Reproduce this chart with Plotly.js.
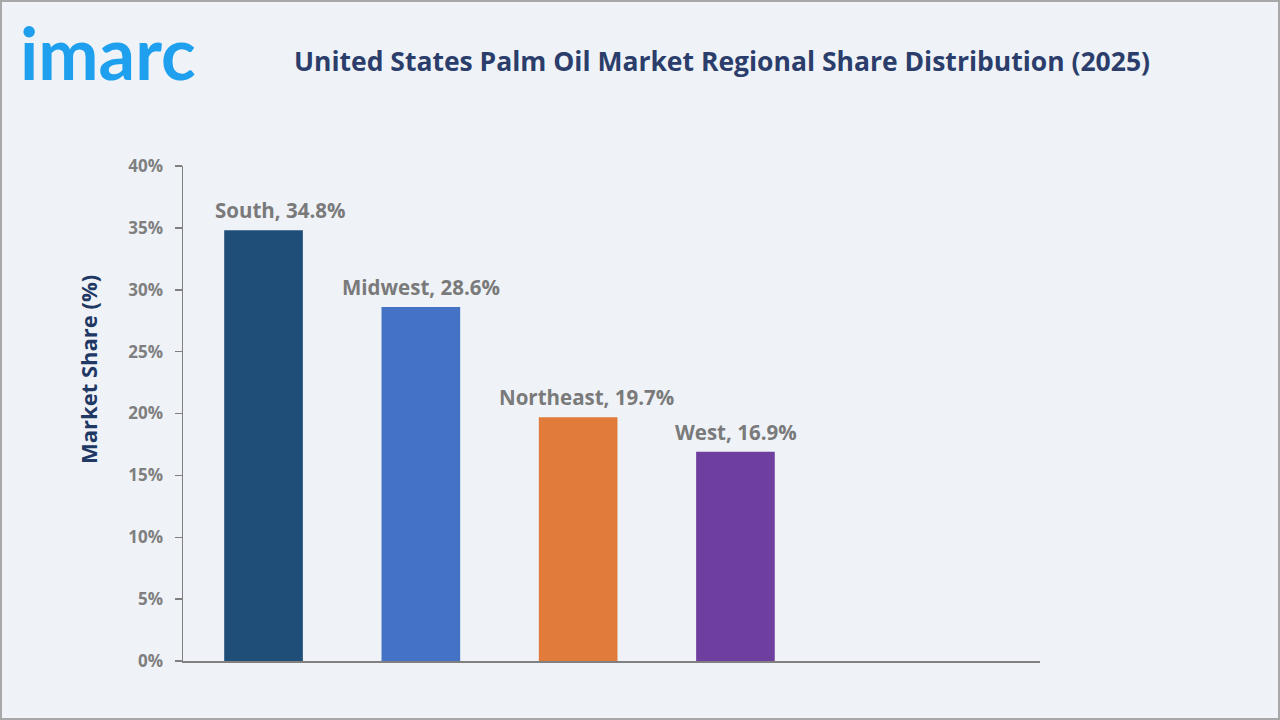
<!DOCTYPE html>
<html>
<head>
<meta charset="utf-8">
<script src="https://cdn.plot.ly/plotly-3.0.1.min.js"></script>
<style>
html,body{margin:0;padding:0;background:#eff3f8;}
#wrap{position:relative;width:1280px;height:720px;}
#chart{width:1280px;height:720px;}
#frame{position:absolute;left:0;top:0;width:1280px;height:720px;box-sizing:border-box;border:2px solid #a8a8a8;pointer-events:none;}
</style>
</head>
<body>
<div id="wrap"><div id="chart"></div><div id="frame"></div></div>
<script>
const regions = ["South", "Midwest", "Northeast", "West"];
const shares = [34.8, 28.6, 19.7, 16.9];
const barColors = ["#1f4e79", "#4472c4", "#e07b39", "#6f3f9f"];
const yTickVals = [0, 5, 10, 15, 20, 25, 30, 35, 40];
const yTickText = ["0%", "5%", "10%", "15%", "20%", "25%", "30%", "35%", "40%"];

const labelFont = {family: "Open Sans, Noto Sans, sans-serif", size: 20.5, color: "#7a7a7a", weight: 700};
const labelNudge = [16, 0, 8, 1];

const annotations = regions.map((r, i) => ({
  x: r, y: shares[i], xref: "x", yref: "y",
  text: r + ", " + shares[i].toFixed(1) + "%",
  showarrow: false, yanchor: "bottom", yshift: 4, xshift: labelNudge[i],
  font: labelFont
}));

annotations.push({
  xref: "paper", yref: "paper",
  x: (88 - 183) / 857, y: (661 - 370) / 495,
  text: "Market Share (%)", textangle: -90, showarrow: false,
  xanchor: "center", yanchor: "middle",
  font: {family: "Open Sans, Noto Sans, sans-serif", size: 22, color: "#1f3864", weight: 700}
});

annotations.push({
  xref: "paper", yref: "paper",
  x: (18 - 183) / 857, y: (661 - 52) / 495,
  text: "imarc", showarrow: false, xanchor: "left", yanchor: "middle",
  font: {family: "Lato, Roboto, sans-serif", size: 72, color: "#1ea0ee", weight: 700}
});

const data = [{
  type: "bar",
  x: regions,
  y: shares,
  width: 0.5,
  marker: {color: barColors},
  hoverinfo: "skip"
}];

const layout = {
  width: 1280, height: 720,
  paper_bgcolor: "#eff3f8",
  plot_bgcolor: "#eff3f8",
  margin: {l: 183, r: 240, t: 166, b: 59},
  showlegend: false,
  title: {
    text: "United States Palm Oil Market Regional Share Distribution (2025)",
    xref: "container", yref: "container",
    x: 722 / 1280, y: 1 - 62 / 720, xanchor: "center", yanchor: "middle",
    font: {family: "Open Sans, Noto Sans, sans-serif", size: 26.5, color: "#2b3e6b", weight: 700}
  },
  xaxis: {
    type: "category",
    range: [-0.512, 4.936],
    showticklabels: false,
    ticks: "",
    showgrid: false,
    zeroline: false,
    showline: true,
    linecolor: "#808080",
    linewidth: 1.5
  },
  yaxis: {
    range: [0, 40],
    tickvals: yTickVals,
    ticktext: yTickText,
    ticks: "outside",
    ticklen: 7,
    tickcolor: "#808080",
    tickwidth: 1.5,
    ticklabelstandoff: 8,
    showgrid: false,
    zeroline: false,
    showline: true,
    linecolor: "#808080",
    linewidth: 1.5,
    tickfont: {family: "Open Sans, Noto Sans, sans-serif", size: 17, color: "#7f7f7f", weight: 700}
  },
  annotations: annotations
};

Plotly.newPlot("chart", data, layout, {displayModeBar: false, staticPlot: true});
</script>
</body>
</html>
